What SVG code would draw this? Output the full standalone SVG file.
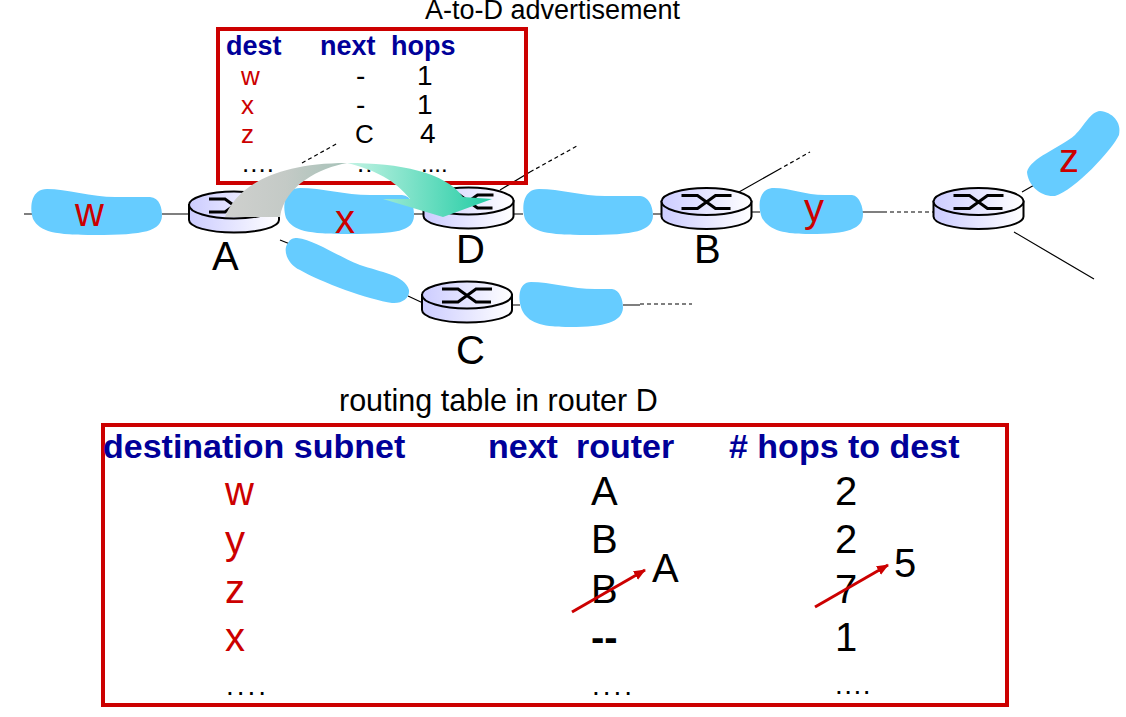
<svg xmlns="http://www.w3.org/2000/svg" width="1126" height="717" viewBox="0 0 1126 717">
<style>
text{font-family:"Liberation Sans",Arial,sans-serif;fill:#000}
.s26{font-size:26px}.s27{font-size:27px}.s28{font-size:28px}.s34{font-size:34px}.s40{font-size:40px}
.red{fill:#cc0000}.hd{fill:#000099;font-weight:bold}
.box{fill:none;stroke:#cc0000;stroke-width:4}
.blob{fill:#66ccff}
.ln{stroke:#000;stroke-width:1.200;fill:none}
.ds{stroke:#000;stroke-width:1.200;fill:none;stroke-dasharray:4 3}
.ra{stroke:#cc0000;stroke-width:3;fill:none;marker-end:url(#rh)}
</style>
<defs>
<linearGradient id="rg" x1="0" x2="1" y1="0" y2="0"><stop offset="0" stop-color="#ccccff"/><stop offset="1" stop-color="#ffffff"/></linearGradient>
<linearGradient id="ag1" gradientUnits="userSpaceOnUse" x1="225" x2="347" y1="0" y2="0"><stop offset="0" stop-color="#cfd0ce"/><stop offset="0.5" stop-color="#c4cac6"/><stop offset="1" stop-color="#a6c2b8"/></linearGradient>
<linearGradient id="ag2" gradientUnits="userSpaceOnUse" x1="347" x2="492" y1="0" y2="0"><stop offset="0" stop-color="#c4f3e4"/><stop offset="1" stop-color="#22cca4"/></linearGradient>
<marker id="rh" markerUnits="userSpaceOnUse" markerWidth="14" markerHeight="12" refX="11" refY="5" orient="auto"><path d="M0,0L12,5L0,10Z" fill="#cc0000"/></marker>
<g id="router">
<path d="M-45,0V15C-45,22 -25,27.500 0,27.500C25,27.500 45,22 45,15V0Z" fill="url(#rg)" stroke="#000" stroke-width="2"/>
<ellipse rx="45" ry="13.500" fill="url(#rg)" stroke="#000" stroke-width="2"/>
<path d="M-25,-6H-9L9,7H24M25,-6H9L-9,7H-25" fill="none" stroke="#000" stroke-width="3"/>
</g>
</defs>

<g id="connectors">
<path class="ln" d="M24,214H32M162,214H188M414,214H424M513,214H523M653,214H661M752,212H760M862,212H883M512,305H520M623,305H640M280,240L290,244M408,296L423,303M500,190L530,172M739,192L778,170M1022,192L1036,184M1014,232L1094,279"/>
<path class="ds" d="M883,212H933M640,304H692M530,172L577,146M778,170L810,152M302,163L338,143"/>
</g>

<g id="subnet-w"><path class="blob" d="M47,189C66,189 92,197 115,197L150,197C160,198 162,208 162,216C161,231 145,235 95,235C55,235 40,232 33,219C29,205 32,189 47,189Z"/><text class="s40 red" x="75" y="226">w</text></g>
<g id="subnet-x"><path class="blob" d="M300,188C322,188 345,195 370,195L402,195C412,196 414,206 414,216C413,231 398,234 348,234C308,234 293,231 286,218C282,204 285,188 300,188Z"/><text class="s40 red" x="335" y="233">x</text></g>
<g id="subnet-db"><path class="blob" d="M539,189C560,189 582,196 605,196L640,196C650,197 653,208 653,216C652,231 635,235 587,235C547,235 532,232 525,219C521,205 524,189 539,189Z"/></g>
<g id="subnet-y"><path class="blob" d="M774,188C790,188 805,195 825,195L852,195C860,196 863,208 863,214C863,229 848,234 810,234C785,234 770,231 762,218C757,205 759,188 774,188Z"/><text class="s40 red" x="804" y="222">y</text></g>
<g id="subnet-z"><path class="blob" d="M1100,111C1112,112 1122,122 1119,135C1112,150 1075,190 1055,196C1040,197 1028,185 1027,172C1030,158 1060,148 1075,135C1085,125 1090,112 1100,111Z"/><text class="s40 red" x="1059" y="172">z</text></g>
<g id="subnet-ac"><path class="blob" d="M297,238C315,240 335,255 360,265C380,272 405,275 409,290C410,298 402,304 392,303C370,300 320,282 300,270C288,265 282,250 288,243C290,239 293,238 297,238Z"/></g>
<g id="subnet-c"><path class="blob" d="M531,282C550,282 572,289 595,289L612,289C620,290 623,300 623,308C622,322 605,327 570,327C545,327 530,324 523,312C517,300 518,282 531,282Z"/></g>

<g id="router-A"><use href="#router" x="234" y="205"/><text class="s40" x="212" y="270">A</text></g>
<g id="router-D"><use href="#router" x="468.500" y="201"/><text class="s40" x="456" y="263">D</text></g>
<g id="router-B"><use href="#router" x="706.500" y="201.500"/><text class="s40" x="694" y="263">B</text></g>
<g id="router-E"><use href="#router" x="978.500" y="201.500"/></g>
<g id="router-C"><use href="#router" x="467" y="295"/><text class="s40" x="456" y="364">C</text></g>

<g id="advert">
<rect class="box" x="218" y="29" width="308" height="154"/>
<text class="s27" x="425" y="19">A-to-D advertisement</text>
<text class="s27 hd" x="226" y="55">dest</text><text class="s27 hd" x="320" y="55">next</text><text class="s27 hd" x="391" y="55">hops</text>
<text class="s26 red" x="241" y="85">w</text><text class="s28" x="356" y="85">-</text><text class="s28" x="417" y="85">1</text>
<text class="s26 red" x="241" y="114">x</text><text class="s28" x="356" y="114">-</text><text class="s28" x="417" y="114">1</text>
<text class="s26 red" x="241" y="143">z</text><text class="s26" x="355" y="143">C</text><text class="s28" x="420" y="143">4</text>
<text font-size="26" letter-spacing="1" x="242" y="172">....</text><text font-size="26" letter-spacing="1" x="357" y="172">....</text><text font-size="24" x="421" y="172">....</text>
</g>

<g id="flow">
<path d="M225,217C235,190 270,163 347,163C320,168 285,185 280,217Z" fill="url(#ag1)"/>
<path d="M347,163C400,163 445,172 463,197L492,199L443,217L383,199L410,199C395,180 375,170 347,163Z" fill="url(#ag2)"/>
</g>

<g id="table">
<text x="339" y="411" font-size="30.500">routing table in router D</text>
<rect class="box" x="103" y="425" width="904" height="280"/>
<text class="hd s34" x="103" y="458">destination subnet</text>
<text class="hd s34" x="488" y="458">next</text>
<text class="hd s34" x="576" y="458">router</text>
<text class="hd s34" x="729" y="458"># hops to dest</text>
<text class="s40 red" x="225" y="505">w</text><text class="s40 red" x="225" y="554">y</text><text class="s40 red" x="225" y="603">z</text><text class="s40 red" x="225" y="651">x</text>
<text class="s40" x="591" y="505">A</text><text class="s40" x="591" y="553">B</text><text class="s40" x="591" y="603">B</text><text class="s40" x="591" y="651" font-weight="bold">--</text>
<text class="s40" x="835" y="505">2</text><text class="s40" x="835" y="553">2</text><text class="s40" x="835" y="603">7</text><text class="s40" x="835" y="651">1</text>
<text font-size="28" letter-spacing="3" x="226" y="695">....</text><text font-size="28" letter-spacing="3" x="592" y="695">....</text><text font-size="28" letter-spacing="1.500" x="835" y="694">....</text>
<path class="ra" d="M572,612L645,570"/>
<path class="ra" d="M815,607L888,565"/>
<text class="s40" x="652" y="582">A</text>
<text class="s40" x="894" y="577">5</text>
</g>
</svg>
